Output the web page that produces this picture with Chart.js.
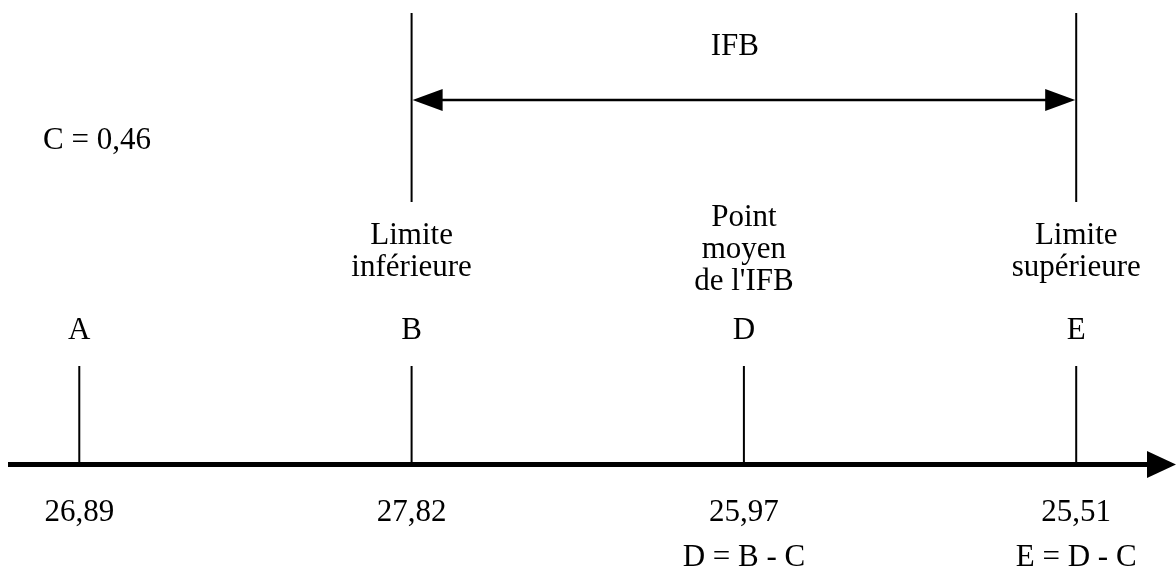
<!DOCTYPE html>
<html>
<head>
<meta charset="utf-8">
<script src="https://cdn.jsdelivr.net/npm/chart.js@4/dist/chart.umd.min.js"></script>
<style>
  html, body { margin: 0; padding: 0; background: #fff; }
  #wrap { width: 1176px; height: 569px; }
</style>
</head>
<body>
<div id="wrap"><canvas id="c" width="1176" height="569"></canvas></div>
<script>
// ---- data ----
const categories = ['A', 'B', 'D', 'E'];
const values = [26.89, 27.82, 25.97, 25.51];
const formulas = ['', '', 'D = B - C', 'E = D - C'];
const descriptions = [[], ['Limite', 'inférieure'], ['Point', 'moyen', "de l'IFB"], ['Limite', 'supérieure']];
const constantC = 0.46;
const constantLabel = 'C';
const intervalLabel = 'IFB';
const intervalBounds = ['B', 'E'];

// ---- layout / style ----
const FONT = '31px "Liberation Serif", "Times New Roman", serif';
const AXIS_Y = 464.5;
const TICK_TOP = 366;
const BOUND_TOP = 13, BOUND_BOTTOM = 202;
const ARROW_Y = 100;

const fmt = v => v.toFixed(2).replace('.', ',');

const tickDatasets = categories.map((c, i) => ({
  label: c,
  data: [{x: i, y: TICK_TOP}, {x: i, y: AXIS_Y}],
  showLine: true, borderColor: '#000', borderWidth: 2, pointRadius: 0
}));
const boundDatasets = intervalBounds.map(b => {
  const i = categories.indexOf(b);
  return {
    label: b + ' limit',
    data: [{x: i, y: BOUND_TOP}, {x: i, y: BOUND_BOTTOM}],
    showLine: true, borderColor: '#000', borderWidth: 2, pointRadius: 0
  };
});

const drawPlugin = {
  id: 'diagram',
  afterDatasetsDraw(chart) {
    const ctx = chart.ctx;
    const xs = chart.scales.x;
    const px = i => xs.getPixelForValue(i);
    ctx.save();
    ctx.fillStyle = '#000';
    ctx.strokeStyle = '#000';

    // main axis
    ctx.lineWidth = 5;
    ctx.beginPath();
    ctx.moveTo(8, AXIS_Y);
    ctx.lineTo(1152, AXIS_Y);
    ctx.stroke();
    ctx.beginPath();
    ctx.moveTo(1176, AXIS_Y);
    ctx.lineTo(1147, AXIS_Y - 13.5);
    ctx.lineTo(1147, AXIS_Y + 13.5);
    ctx.closePath();
    ctx.fill();

    // double arrow between bounds
    const xb = px(categories.indexOf(intervalBounds[0]));
    const xe = px(categories.indexOf(intervalBounds[1]));
    ctx.lineWidth = 2.5;
    ctx.beginPath();
    ctx.moveTo(xb + 20, ARROW_Y);
    ctx.lineTo(xe - 20, ARROW_Y);
    ctx.stroke();
    ctx.beginPath();
    ctx.moveTo(xb + 1, ARROW_Y);
    ctx.lineTo(xb + 31, ARROW_Y - 11);
    ctx.lineTo(xb + 31, ARROW_Y + 11);
    ctx.closePath();
    ctx.fill();
    ctx.beginPath();
    ctx.moveTo(xe - 1, ARROW_Y);
    ctx.lineTo(xe - 31, ARROW_Y - 11);
    ctx.lineTo(xe - 31, ARROW_Y + 11);
    ctx.closePath();
    ctx.fill();

    // texts
    ctx.font = FONT;
    ctx.textBaseline = 'alphabetic';
    ctx.textAlign = 'center';
    ctx.fillText(intervalLabel, (xb + xe) / 2 - 9, 55);

    ctx.textAlign = 'left';
    ctx.fillText(constantLabel + ' = ' + fmt(constantC), 43, 149);

    ctx.textAlign = 'center';
    categories.forEach((c, i) => {
      const x = px(i);
      ctx.fillText(c, x, 339);
      ctx.fillText(fmt(values[i]), x, 521);
      if (formulas[i]) ctx.fillText(formulas[i], x, 566);
      const lines = descriptions[i];
      const lastBase = lines.length === 3 ? 290 : 276;
      lines.forEach((t, k) => {
        ctx.fillText(t, x, lastBase - (lines.length - 1 - k) * 32);
      });
    });
    ctx.restore();
  }
};

new Chart(document.getElementById('c'), {
  type: 'scatter',
  data: { datasets: [...tickDatasets, ...boundDatasets] },
  options: {
    responsive: false,
    animation: false,
    events: [],
    layout: { padding: 0 },
    plugins: { legend: { display: false }, tooltip: { enabled: false } },
    scales: {
      x: { type: 'linear', min: -0.2386, max: 3.3003, display: false },
      y: { type: 'linear', min: 0, max: 569, reverse: true, display: false }
    }
  },
  plugins: [drawPlugin]
});
</script>
</body>
</html>
